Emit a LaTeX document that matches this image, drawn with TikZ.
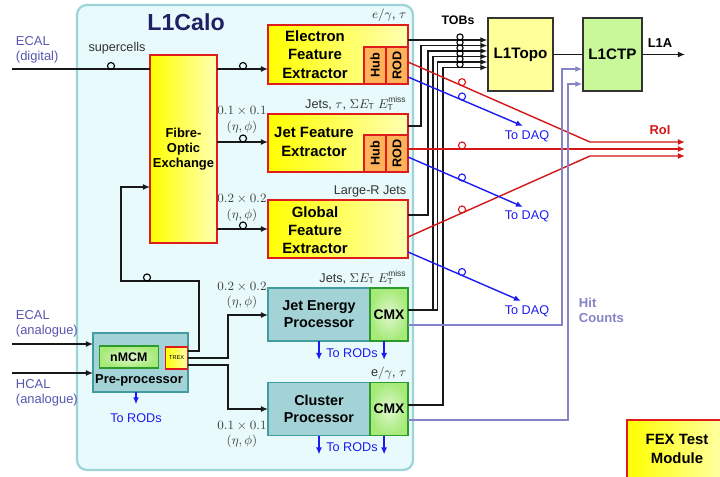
\documentclass[tikz,border=0pt]{standalone}
\usepackage{fontspec}
\setmainfont{Liberation Sans}
\usepackage{graphicx}
\usetikzlibrary{arrows.meta, positioning}
\definecolor{lccyan}{HTML}{E8FAFB}
\definecolor{lcframe}{HTML}{9DD4D7}
\definecolor{lcnavy}{HTML}{1F2162}
\definecolor{lcyellow}{HTML}{FFFF00}
\definecolor{lcred}{HTML}{E01B1B}
\definecolor{lcorange}{HTML}{FFB25A}
\definecolor{lcteal}{HTML}{A3D3D6}
\definecolor{lctealdark}{HTML}{439CA0}
\definecolor{lcgreen}{HTML}{A6EA78}
\definecolor{lcgreendark}{HTML}{2C9A2C}
\definecolor{lctopo}{HTML}{FFFF99}
\definecolor{lcctp}{HTML}{C8F89A}
\definecolor{lcinput}{HTML}{5656AE}
\definecolor{lcdaq}{HTML}{1C1CF2}
\definecolor{lchit}{HTML}{8484C6}
\definecolor{lcroi}{HTML}{D41616}
\newcommand{\lcsize}[2]{\fontsize{#1}{#2}\selectfont}

\begin{document}
\begin{tikzpicture}[x=0.025cm, y=-0.025cm,
  sig/.style={black!90, line width=0.9pt, -{Latex[length=5pt, width=4.2pt]}},
  link/.style={black!90, line width=0.9pt},
  roiline/.style={lcroi, line width=1pt, -{Latex[length=5pt, width=4.2pt]}},
  daqline/.style={lcdaq, line width=1pt, -{Latex[length=5pt, width=4.2pt]}},
  hitline/.style={lchit, line width=0.9pt, -{Latex[length=5pt, width=4.2pt]}},
  ring/.style={line width=0.8pt},
  fexbox/.style={draw=lcred, line width=1.1pt, outer sep=0pt, inner sep=0pt, left color=lcyellow, right color=lcyellow!30!white},
  fextext/.style={align=center, font=\lcsize{10.6pt}{13pt}\bfseries},
  hubbox/.style={draw=lcred, line width=0.9pt, fill=lcorange, outer sep=0pt, inner sep=0pt, minimum width=0.55cm, minimum height=0.925cm, font=\lcsize{9pt}{10pt}\bfseries},
  procbox/.style={draw=lctealdark, line width=1.1pt, fill=lcteal, outer sep=0pt, minimum width=2.55cm, minimum height=1.325cm, align=center, font=\lcsize{10.2pt}{12pt}\bfseries},
  cmxbox/.style={draw=lcgreendark, line width=1.1pt, inner color=lcgreen!35!white, outer color=lcgreen, outer sep=0pt, inner sep=0pt, minimum width=0.95cm, minimum height=1.325cm, font=\lcsize{9.9pt}{11pt}\bfseries},
  trigbox/.style={draw=black!80, line width=1pt, minimum height=1.825cm, font=\lcsize{10.8pt}{12pt}\bfseries},
  fexnote/.style={font=\lcsize{9pt}{10pt}, text=black!80, inner sep=1pt},
  granlabel/.style={align=center, font=\lcsize{9.5pt}{10.7pt}, text=black!75},
  inlabel/.style={align=left, text=lcinput, font=\lcsize{9.2pt}{11pt}, anchor=west},
  daqlabel/.style={text=lcdaq, font=\lcsize{9pt}{10pt}}
]
  \useasboundingbox (0,0) rectangle (720,477);
  \clip (0,0) rectangle (720,477);

  % L1Calo crate
  \draw[draw=lcframe, fill=lccyan, line width=1.6pt, rounded corners=7pt] (77,5) rectangle (413,470);
  \node[font=\lcsize{16.5pt}{18pt}\bfseries, text=lcnavy] (calo) at (186,22) {L1Calo};

  % Inputs
  \node[inlabel] (ecaldig) at (11,50) {ECAL\\(digital)};
  \node[inlabel] (ecalana) at (11,324) {ECAL\\(analogue)};
  \node[inlabel] (hcalana) at (11,393) {HCAL\\(analogue)};
  \coordinate (ecaldigin) at (12,69);
  \coordinate (ecalanain) at (12,344);
  \coordinate (hcalanain) at (12,373);
  \node[font=\lcsize{9pt}{10pt}, text=black!80] (supercells) at (117,48) {supercells};

  % Fibre-optic exchange and FEXes
  \node[fexbox, minimum width=1.675cm, minimum height=4.7cm, align=center, font=\lcsize{9.2pt}{10.8pt}\bfseries] (fox) at (183.5,149) {Fibre-\\Optic\\Exchange};

  \node[fexbox, minimum width=3.5cm, minimum height=1.475cm] (efex) at (338,54.5) {};
  \node[hubbox, anchor=south east] (erod) at (efex.south east) {\rotatebox{90}{ROD}};
  \node[hubbox, anchor=south east] (ehub) at (erod.south west) {\rotatebox{90}{Hub}};
  \node[fextext] (efextxt) at (315,54.5) {Electron\\Feature\\Extractor};
  \node[fexnote, above left=1pt and 0pt of efex.north east] (efexnote) {$e/\gamma$, $\tau$};

  \node[fexbox, minimum width=3.5cm, minimum height=1.45cm] (jfex) at (338,143) {};
  \node[hubbox, anchor=south east] (jrod) at (jfex.south east) {\rotatebox{90}{ROD}};
  \node[hubbox, anchor=south east] (jhub) at (jrod.south west) {\rotatebox{90}{Hub}};
  \node[fextext] (jfextxt) at (314,142) {Jet Feature\\Extractor};
  \node[fexnote, above left=1pt and 0pt of jfex.north east] (jfexnote) {Jets, $\tau$, $\Sigma E_\mathrm{T}$ $E_\mathrm{T}^\mathrm{miss}$};

  \node[fexbox, minimum width=3.5cm, minimum height=1.45cm] (gfex) at (338,229) {};
  \node[fextext] (gfextxt) at (315,230) {Global\\Feature\\Extractor};
  \node[fexnote, above left=1pt and 0pt of gfex.north east] (gfexnote) {Large-R Jets};

  % Processors
  \node[procbox] (jep) at (319,314.5) {Jet Energy\\Processor};
  \node[cmxbox, right=0pt of jep] (jcmx) {CMX};
  \node[fexnote, above left=1pt and 0pt of jcmx.north east] (jepnote) {Jets, $\Sigma E_\mathrm{T}$ $E_\mathrm{T}^\mathrm{miss}$};

  \node[procbox] (cp) at (319,409) {Cluster\\Processor};
  \node[cmxbox, right=0pt of cp] (ccmx) {CMX};
  \node[fexnote, above left=1pt and 0pt of ccmx.north east] (cpnote) {$\mathrm{e}/\gamma$, $\tau$};

  \node[procbox, minimum width=2.375cm, minimum height=1.475cm] (ppr) at (140.5,362.5) {};
  \node[draw=lcgreendark, line width=1pt, inner color=lcgreen!35!white, outer color=lcgreen, minimum width=1.475cm, minimum height=0.55cm, inner sep=0pt, font=\lcsize{8.8pt}{10pt}\bfseries] (nmcm) at (128.8,357) {nMCM};
  \node[fexbox, minimum size=0.55cm, font=\lcsize{4pt}{5pt}] (trex) at (176.7,358) {TREX};
  \node[font=\lcsize{9.2pt}{10pt}\bfseries] (pprtxt) at (139,380) {Pre-processor};

  % Granularity
  \node[granlabel] (foxjgran) at (242,120) {$0.1\times0.1$\\$(\eta,\phi)$};
  \node[granlabel] (foxggran) at (242,208) {$0.2\times0.2$\\$(\eta,\phi)$};
  \node[granlabel] (jepgran) at (242,295.5) {$0.2\times0.2$\\$(\eta,\phi)$};
  \node[granlabel] (cpgran) at (242,434.5) {$0.1\times0.1$\\$(\eta,\phi)$};

  % To RODs
  \node[daqlabel] (pprrods) at (136,418) {To RODs};
  \node[daqlabel] (jeprods) at (352,353) {To RODs};
  \node[daqlabel] (cprods) at (352,447) {To RODs};
  \draw[daqline] (ppr.south -| pprrods.north) -- ([yshift=3pt]pprrods.north);
  \draw[daqline] (jep.south) -- ++(0,19);
  \draw[daqline] ([xshift=-3.5pt]jcmx.south) -- ++(0,19);
  \draw[daqline] (cp.south) -- ++(0,19);
  \draw[daqline] ([xshift=-3.5pt]ccmx.south) -- ++(0,19);

  % Trigger boxes
  \node[trigbox, fill=lctopo, minimum width=1.625cm] (topo) at (520.5,54.5) {L1Topo};
  \node[trigbox, fill=lcctp, minimum width=1.475cm] (ctp) at (612.5,54.5) {L1CTP};
  \coordinate (l1aend) at (685,54.5);
  \node[font=\lcsize{9.2pt}{10pt}\bfseries] (l1a) at (660,43) {L1A};
  \node[font=\lcsize{8.8pt}{10pt}\bfseries] (tobs) at (458,20) {TOBs};
  \node[font=\lcsize{9.2pt}{10pt}\bfseries, text=lcroi] (roilbl) at (660,130) {RoI};
  \node[font=\lcsize{9.3pt}{11pt}\bfseries, text=lchit, align=left, anchor=north west] (hitlbl) at (574,293) {Hit\\Counts};

  % FEX test module
  \node[fexbox, anchor=north west, minimum width=2.6cm, minimum height=1.8cm] (ftm) at (627,420) {};
  \node[fextext] (ftmtxt) at (677,449) {FEX Test\\Module};

  % Links into and out of the FOX
  \draw[link] (ecaldigin) -- (fox.west |- ecaldigin);
  \draw[sig] (fox.east |- 0,69) -- (efex.west |- 0,69);
  \draw[sig] (fox.east |- 0,142) -- (jfex.west |- 0,142);
  \draw[sig] (fox.east |- 0,229) -- (gfex.west |- 0,229);
  \draw[sig] (ecalanain) -- (ppr.west |- ecalanain);
  \draw[sig] (hcalanain) -- (ppr.west |- hcalanain);
  \draw[sig] ([yshift=5pt]trex.east) -| (199,281) -| (121,187) -- (fox.west |- 0,187);
  \draw[sig] (trex.east) -| (228,315) -- (jep.west |- 0,315);
  \draw[sig] ([yshift=-5pt]trex.east) -| (228,409) -- (cp.west);

  % TOBs to L1Topo
  \draw[sig] (efex.east |- 0,40) -- (topo.west |- 0,40);
  \draw[sig] (jfex.east |- 0,126) -| (421,45.5) -- (topo.west |- 0,45.5);
  \draw[sig] (gfex.east |- 0,215) -| (428,51) -- (topo.west |- 0,51);
  \draw[sig] (jcmx.east |- 0,310) -| (433,56.5) -- (topo.west |- 0,56.5);
  \draw[sig] (jcmx.east |- 0,310) -| (437.5,62) -- (topo.west |- 0,62);
  \draw[sig] (ccmx.east |- 0,405) -| (443,67.5) -- (topo.west |- 0,67.5);
  \draw[link] (topo) -- (ctp);
  \draw[sig] (ctp) -- (l1aend);

  % RoI
  \coordinate (roia) at (685,142);
  \coordinate (roib) at (685,149);
  \coordinate (roic) at (685,156);
  \draw[roiline] (erod.east |- 0,62) -- (590,142) -- (roia);
  \draw[roiline] (jrod.east |- 0,149) -- (roib);
  \draw[roiline] (gfex.east |- 0,237) -- (590,156) -- (roic);

  % To DAQ
  \node[daqlabel] (edaq) at (527,136) {To DAQ};
  \node[daqlabel] (jdaq) at (527,216) {To DAQ};
  \node[daqlabel] (gdaq) at (527,311) {To DAQ};
  \coordinate (edaqend) at (523,126);
  \coordinate (jdaqend) at (523,207);
  \coordinate (gdaqend) at (521,301);
  \draw[daqline] (erod.east |- 0,77) -- (edaqend);
  \draw[daqline] (jrod.east |- 0,157) -- (jdaqend);
  \draw[daqline] (gfex.east |- 0,252) -- (gdaqend);

  % Hit counts
  \draw[hitline] (jcmx.east |- 0,325) -| (562,69) -- (ctp.west |- 0,69);
  \draw[hitline] (ccmx.east |- 0,420) -| (568,84) -- (ctp.west |- 0,84);

  % Optical links
  \foreach \p in {(111,66),(243,66),(243,138.5),(243,225.5),(147,277.5)}
    \draw[ring] \p circle[radius=2.5pt];
  \foreach \y in {37,42.5,48,53.5,59,64.5}
    \draw[ring] (460,\y) circle[radius=2.2pt];
  \foreach \y in {82.2,145.5,209.5}
    \draw[ring, lcroi] (462,\y) circle[radius=2.5pt];
  \foreach \y in {96.5,177.5,272}
    \draw[ring, lcdaq] (462,\y) circle[radius=2.5pt];
\end{tikzpicture}
\end{document}
